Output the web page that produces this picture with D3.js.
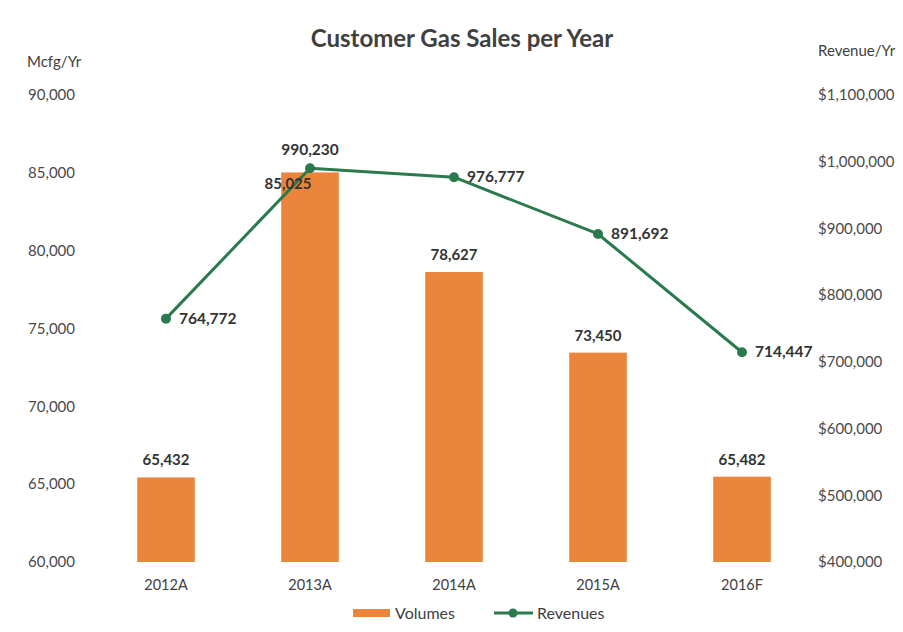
<!DOCTYPE html>
<html>
<head>
<meta charset="utf-8">
<script src="https://cdn.jsdelivr.net/npm/d3@7/dist/d3.min.js"></script>
<style>
  html, body { margin: 0; padding: 0; background: #fff; }
  svg { display: block; font-family: Lato, "Open Sans", sans-serif; }
</style>
</head>
<body>
<svg id="chart" width="903" height="632"></svg>
<script>
// Customer gas sales: volumes (bars, left axis) and revenues (line, right axis)
const categories = ["2012A", "2013A", "2014A", "2015A", "2016F"];
const volumes = [65432, 85025, 78627, 73450, 65482];
const revenues = [764772, 990230, 976777, 891692, 714447];
const volumeTicks = [60000, 65000, 70000, 75000, 80000, 85000, 90000];
const revenueTicks = [400000, 500000, 600000, 700000, 800000, 900000, 1000000, 1100000];

const svg = d3.select("#chart");
const plot = { left: 94, right: 814, top: 95, bottom: 562 };

const orange = "#EA853B";
const green = "#2A7A4E";
const labelDark = "#333333";
const axisGrey = "#4a4a4a";
const font = "Lato, 'Open Sans', sans-serif";

const x = d3.scaleBand()
  .domain(categories)
  .range([plot.left, plot.right])
  .paddingInner(0.6)
  .paddingOuter(0.3);

const yL = d3.scaleLinear().domain([60000, 90000]).range([plot.bottom, plot.top]);
const yR = d3.scaleLinear().domain([400000, 1100000]).range([plot.bottom, plot.top]);

const fmt = d3.format(",");
const fmtDollar = d3.format("$,");

// Title
svg.append("text")
  .attr("x", 462).attr("y", 47)
  .attr("text-anchor", "middle")
  .attr("font-size", 24).attr("font-weight", 700)
  .attr("fill", "#404040")
  .text("Customer Gas Sales per Year");

// Axis titles
svg.append("text")
  .attr("x", 27).attr("y", 67)
  .attr("font-size", 15).attr("fill", "#404040")
  .text("Mcfg/Yr");
svg.append("text")
  .attr("x", 818).attr("y", 56)
  .attr("font-size", 15).attr("fill", "#404040")
  .text("Revenue/Yr");

// Left axis
const leftAxis = svg.append("g")
  .attr("transform", `translate(${plot.left - 19},0)`)
  .call(d3.axisLeft(yL).tickValues(volumeTicks).tickFormat(fmt).tickSize(0).tickPadding(0));
leftAxis.select(".domain").remove();
leftAxis.selectAll("text")
  .attr("font-family", font)
  .attr("font-size", 15).attr("fill", axisGrey);

// Right axis
const rightAxis = svg.append("g")
  .attr("transform", `translate(${plot.right + 4},0)`)
  .call(d3.axisRight(yR).tickValues(revenueTicks).tickFormat(fmtDollar).tickSize(0).tickPadding(0));
rightAxis.select(".domain").remove();
rightAxis.selectAll("text")
  .attr("font-family", font)
  .attr("font-size", 15).attr("fill", axisGrey);

// Category axis
const bottomAxis = svg.append("g")
  .attr("transform", `translate(0,${plot.bottom + 18})`)
  .call(d3.axisBottom(x).tickSize(0).tickPadding(0));
bottomAxis.select(".domain").remove();
bottomAxis.selectAll("text")
  .attr("font-family", font)
  .attr("font-size", 14.5).attr("fill", "#404040");

// Bars
svg.append("g").selectAll("rect")
  .data(volumes)
  .join("rect")
  .attr("x", (d, i) => x(categories[i]))
  .attr("y", d => yL(d))
  .attr("width", x.bandwidth())
  .attr("height", d => plot.bottom - yL(d))
  .attr("fill", orange);

// Revenue line
const cx = i => x(categories[i]) + x.bandwidth() / 2;
const line = d3.line()
  .x((d, i) => cx(i))
  .y(d => yR(d));

svg.append("path")
  .datum(revenues)
  .attr("d", line)
  .attr("fill", "none")
  .attr("stroke", green)
  .attr("stroke-width", 3)
  .attr("stroke-linejoin", "round");

svg.append("g").selectAll("circle")
  .data(revenues)
  .join("circle")
  .attr("cx", (d, i) => cx(i))
  .attr("cy", d => yR(d))
  .attr("r", 5)
  .attr("fill", green);

// Volume labels: above the bar, unless the revenue point sits on the bar top,
// in which case the label tucks inside to the left of the point
const crowded = i => Math.abs(yL(volumes[i]) - yR(revenues[i])) < 25;
svg.append("g").selectAll("text")
  .data(volumes)
  .join("text")
  .attr("x", (d, i) => cx(i) - (crowded(i) ? 22 : 0))
  .attr("y", (d, i) => crowded(i) ? yL(d) + 17 : yL(d) - 12)
  .attr("text-anchor", "middle")
  .attr("font-size", 15).attr("font-weight", 700)
  .attr("fill", labelDark)
  .text(d => fmt(d));

// Revenue labels: right of each point, the peak one above
const peak = revenues.indexOf(d3.max(revenues));
svg.append("g").selectAll("text")
  .data(revenues)
  .join("text")
  .attr("x", (d, i) => i === peak ? cx(i) : cx(i) + 13)
  .attr("y", (d, i) => i === peak ? yR(d) - 13 : yR(d) + 5)
  .attr("text-anchor", (d, i) => i === peak ? "middle" : "start")
  .attr("font-size", 15.5).attr("font-weight", 700)
  .attr("fill", labelDark)
  .text(d => fmt(d));

// Legend
const legend = svg.append("g").attr("transform", "translate(0,613)");
legend.append("rect")
  .attr("x", 353).attr("y", -4).attr("width", 37).attr("height", 8)
  .attr("fill", orange);
legend.append("text")
  .attr("x", 395).attr("y", 5.5)
  .attr("font-size", 16).attr("fill", "#404040")
  .text("Volumes");
legend.append("line")
  .attr("x1", 494).attr("x2", 533).attr("y1", 0).attr("y2", 0)
  .attr("stroke", green).attr("stroke-width", 3);
legend.append("circle")
  .attr("cx", 513).attr("cy", 0).attr("r", 4.5)
  .attr("fill", green);
legend.append("text")
  .attr("x", 537).attr("y", 5.5)
  .attr("font-size", 16).attr("fill", "#404040")
  .text("Revenues");
</script>
</body>
</html>
